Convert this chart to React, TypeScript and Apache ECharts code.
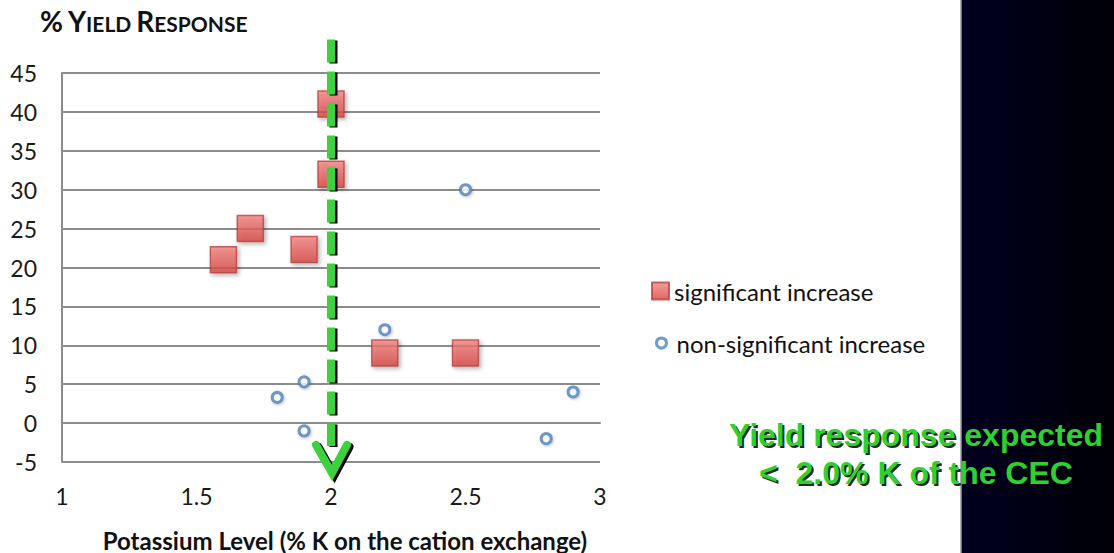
import React, { useEffect, useRef } from "react";
import * as echarts from "echarts";

// Potassium level (% K on the cation exchange) vs. % yield response
const sigK = [2.0, 2.0, 1.7, 1.6, 1.9, 2.2, 2.5];
const sigYield = [41, 32, 25, 21, 22.3, 9, 9];
const nonSigK = [2.5, 2.2, 1.9, 1.8, 1.9, 2.8, 2.9];
const nonSigYield = [30, 12, 5.3, 3.3, -1, -2, 4];

// Threshold arrow at 2.0 % K: x, top of the dashed shaft, arrow tip (in yield units)
const thresholdK = 2.0;
const thresholdTop = 49.3;
const thresholdTip = -6.4;

const SIG_NAME = "significant increase";
const NONSIG_NAME = "non-significant increase";
const noteLines = ["Yield response expected", "<  2.0% K of the CEC"];

const GREEN = "#3dd13d";
const TEXT_GREEN = "#2fd12f";
const UI_FONT = "Lato, 'Open Sans', sans-serif";
const NOTE_FONT = "bold 32px 'Liberation Sans', Arial, sans-serif";

export default function App() {
  const ref = useRef<HTMLDivElement>(null);

  useEffect(() => {
    document.body.style.margin = "0";
    const chart = echarts.init(ref.current!, null, { renderer: "svg" });

    const redFill = new echarts.graphic.LinearGradient(0, 0, 0, 1, [
      { offset: 0, color: "#f38582" },
      { offset: 1, color: "#d5443f" },
    ]);

    const noteElements: any[] = [];
    noteLines.forEach((line, i) => {
      const y = 435 + i * 38;
      noteElements.push({
        type: "text",
        x: 918,
        y: y + 2,
        z: 20,
        style: {
          text: line,
          fill: "#000",
          font: NOTE_FONT,
          align: "center",
          verticalAlign: "middle",
          opacity: 0.85,
        },
      });
      noteElements.push({
        type: "text",
        x: 916,
        y: y,
        z: 21,
        style: {
          text: line,
          fill: TEXT_GREEN,
          font: NOTE_FONT,
          align: "center",
          verticalAlign: "middle",
        },
      });
    });

    chart.setOption({
      animation: false,
      backgroundColor: "#ffffff",
      title: {
        left: 35,
        top: 2,
        text: "{big|%} {big|Y}{small|IELD} {big|R}{small|ESPONSE}",
        textStyle: {
          rich: {
            big: {
              fontFamily: UI_FONT,
              fontWeight: "bold",
              fontSize: 28,
              color: "#111",
              verticalAlign: "bottom",
            },
            small: {
              fontFamily: UI_FONT,
              fontWeight: "bold",
              fontSize: 21,
              color: "#111",
              verticalAlign: "bottom",
              padding: [0, 0, 1, 0],
            },
          },
        },
      },
      legend: [
        {
          data: [SIG_NAME],
          left: 651,
          top: 279,
          padding: 0,
          itemWidth: 17,
          itemHeight: 17,
          textStyle: { fontFamily: UI_FONT, fontSize: 24, color: "#111" },
        },
        {
          data: [NONSIG_NAME],
          left: 655,
          top: 331,
          padding: 0,
          itemWidth: 10,
          itemHeight: 10,
          itemStyle: { borderWidth: 3 },
          textStyle: {
            fontFamily: UI_FONT,
            fontSize: 24,
            color: "#111",
            padding: [0, 0, 0, 5],
          },
        },
      ],
      grid: {
        left: 62,
        right: 514,
        top: 73,
        bottom: 91,
        outerBoundsMode: "none",
      },
      xAxis: {
        type: "value",
        min: 1,
        max: 3,
        interval: 0.5,
        name: "Potassium Level (% K on the cation exchange)",
        nameLocation: "middle",
        nameGap: 66,
        nameTextStyle: {
          fontFamily: UI_FONT,
          fontWeight: "bold",
          fontSize: 24,
          color: "#111",
          padding: [0, 0, 0, 28],
        },
        axisLine: { show: true, lineStyle: { color: "#8c8c8c", width: 2 } },
        axisTick: { show: false },
        splitLine: { show: false },
        axisLabel: {
          fontFamily: UI_FONT,
          fontSize: 23,
          color: "#1a1a1a",
          margin: 22,
        },
      },
      yAxis: {
        type: "value",
        min: -5,
        max: 45,
        interval: 5,
        axisLine: { show: true, lineStyle: { color: "#8c8c8c", width: 2 } },
        axisTick: { show: false },
        splitLine: { show: true, lineStyle: { color: "#8c8c8c", width: 2 } },
        axisLabel: {
          fontFamily: UI_FONT,
          fontSize: 23,
          color: "#1a1a1a",
          margin: 25,
        },
      },
      series: [
        {
          name: SIG_NAME,
          type: "scatter",
          symbol: "rect",
          symbolSize: 26,
          z: 3,
          data: sigK.map((k, i) => [k, sigYield[i]]),
          itemStyle: {
            color: redFill,
            borderColor: "#b9413e",
            borderWidth: 1.5,
            shadowColor: "rgba(0,0,0,0.35)",
            shadowBlur: 4,
            shadowOffsetX: 2,
            shadowOffsetY: 2,
          },
        },
        {
          name: NONSIG_NAME,
          type: "scatter",
          symbol: "circle",
          symbolSize: 10,
          z: 3,
          data: nonSigK.map((k, i) => [k, nonSigYield[i]]),
          itemStyle: {
            color: "#ffffff",
            borderColor: "#4f81bd",
            borderWidth: 3,
            shadowColor: "rgba(0,0,0,0.3)",
            shadowBlur: 3,
            shadowOffsetX: 1,
            shadowOffsetY: 1,
          },
        },
        {
          name: "threshold",
          type: "custom",
          z: 10,
          silent: true,
          clip: false,
          data: [[thresholdK, thresholdTop, thresholdTip]],
          encode: { x: 0, y: 1 },
          renderItem: (_params: any, api: any) => {
            const x = api.value(0);
            const top = api.coord([x, api.value(1)]);
            const tip = api.coord([x, api.value(2)]);
            const shaftEnd = tip[1] - 27;
            const shaft = (dx: number, dy: number, color: string) => ({
              type: "line",
              shape: {
                x1: top[0] + dx,
                y1: top[1] + dy,
                x2: top[0] + dx,
                y2: shaftEnd + dy,
              },
              style: { stroke: color, lineWidth: 8, lineDash: [23, 9] },
            });
            const head = (dx: number, dy: number, color: string) => ({
              type: "polyline",
              shape: {
                points: [
                  [tip[0] - 15 + dx, tip[1] - 28 + dy],
                  [tip[0] + 1 + dx, tip[1] + dy],
                  [tip[0] + 16 + dx, tip[1] - 28 + dy],
                ],
              },
              style: {
                stroke: color,
                fill: null,
                lineWidth: 8,
                lineJoin: "miter",
                lineCap: "round",
              },
            });
            return {
              type: "group",
              children: [
                shaft(2.5, 1, "#000"),
                head(2.5, 2, "#000"),
                shaft(0, 0, GREEN),
                head(0, 0, GREEN),
              ],
            };
          },
        },
      ],
      graphic: [
        {
          type: "rect",
          left: 961,
          top: 0,
          z: 5,
          shape: { width: 153, height: 553 },
          style: {
            fill: new echarts.graphic.LinearGradient(0, 0, 1, 0, [
              { offset: 0, color: "#00001f" },
              { offset: 1, color: "#000006" },
            ]),
          },
        },
        {
          type: "line",
          z: 6,
          shape: { x1: 961, y1: 0, x2: 961, y2: 553 },
          style: { stroke: "#9a9a9a", lineWidth: 1.5 },
        },
        ...noteElements,
      ],
    });

    return () => chart.dispose();
  }, []);

  return <div ref={ref} style={{ width: 1114, height: 553 }} />;
}
